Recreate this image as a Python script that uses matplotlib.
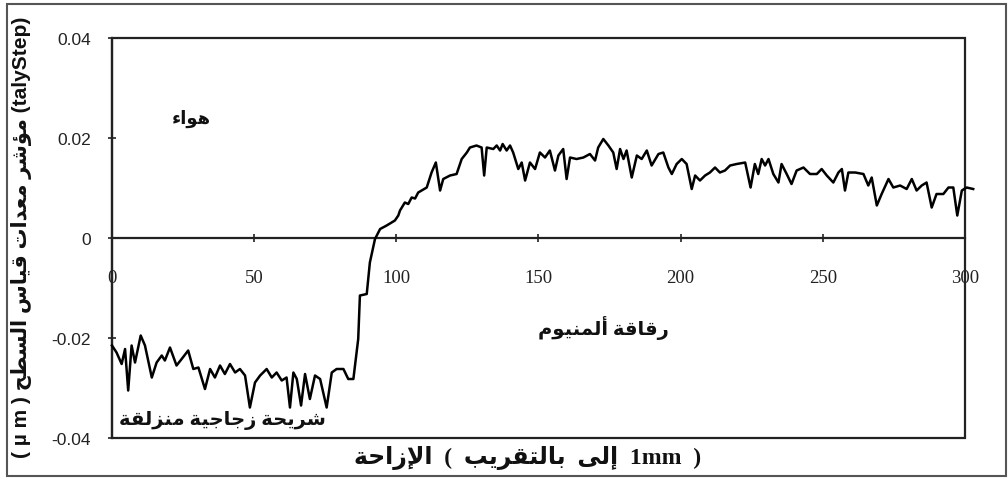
import matplotlib
matplotlib.use("Agg")
import matplotlib.pyplot as plt
from matplotlib.patches import Rectangle

# surface profile across glass slide / aluminium foil step (talyStep trace)
pos_mm = [0, 1.6, 3.4, 4.6, 5.7, 6.9, 8.1, 10.1, 11.6, 14.0, 15.7, 17.5, 18.6, 20.4,
          22.7, 24.5, 26.8, 28.6, 30.4, 32.7, 34.5, 36.2, 38.0, 39.7, 41.5, 43.3, 45.0,
          46.8, 48.5, 50.3, 52.1, 54.4, 56.2, 57.9, 59.7, 61.4, 62.6, 63.8, 65.0, 66.5,
          67.9, 69.6, 71.4, 73.2, 75.5, 77.3, 79.0, 81.4, 83.1, 84.9, 86.6, 87.2, 89.6,
          90.7, 92.5, 94.3, 96.6, 99.5, 100.7, 101.3, 103.0, 104.2, 105.4, 106.6, 107.7,
          110.7, 112.4, 113.9, 115.4, 116.5, 118.9, 121.2, 123.0, 124.8, 125.9, 128.2,
          130.0, 130.9, 131.8, 134.1, 135.3, 136.5, 137.4, 138.8, 140.0, 141.1, 142.9,
          144.1, 145.3, 147.0, 148.8, 150.5, 152.3, 154.0, 155.8, 157.0, 158.7, 159.9,
          161.1, 163.4, 165.8, 168.1, 169.9, 171.0, 172.8, 174.6, 176.3, 177.5, 178.7,
          179.9, 181.0, 182.8, 184.6, 186.3, 188.1, 189.8, 192.2, 193.9, 195.7, 196.9,
          198.6, 200.4, 202.1, 203.9, 205.1, 206.8, 208.6, 210.3, 212.1, 213.8, 215.6,
          217.4, 219.7, 222.7, 224.6, 226.1, 227.3, 228.5, 229.7, 230.9, 232.6, 234.4,
          235.5, 237.3, 239.0, 240.8, 243.2, 245.5, 247.9, 249.6, 251.4, 253.7, 255.5,
          256.7, 257.8, 259.0, 261.4, 264.3, 266.0, 267.2, 269.0, 270.7, 273.1, 274.8,
          277.2, 279.5, 281.3, 283.0, 284.8, 286.5, 288.3, 290.0, 292.4, 294.2, 295.9,
          297.3, 298.9, 300.6, 302.9]
height = [-0.0215, -0.0229, -0.0252, -0.0222, -0.0305, -0.0215, -0.0249, -0.0195, -0.0215,
          -0.0279, -0.0249, -0.0235, -0.0245, -0.0219, -0.0255, -0.0242, -0.0225, -0.0262,
          -0.0259, -0.0302, -0.0262, -0.0279, -0.0255, -0.0272, -0.0252, -0.0269, -0.0262,
          -0.0275, -0.0339, -0.0289, -0.0275, -0.0262, -0.0279, -0.0269, -0.0285, -0.0279,
          -0.0339, -0.0269, -0.0282, -0.0335, -0.0272, -0.0322, -0.0275, -0.0282, -0.0339,
          -0.0269, -0.0262, -0.0262, -0.0282, -0.0282, -0.0202, -0.0115, -0.0112, -0.0049,
          -0.0002, 0.0018, 0.0025, 0.0035, 0.0045, 0.0055, 0.0071, 0.0068, 0.0081, 0.0079,
          0.0091, 0.0101, 0.0131, 0.0151, 0.0095, 0.0118, 0.0125, 0.0128, 0.0158, 0.0171,
          0.0181, 0.0185, 0.0181, 0.0125, 0.0181, 0.0178, 0.0185, 0.0175, 0.0188, 0.0175,
          0.0185, 0.0171, 0.0138, 0.0151, 0.0115, 0.0151, 0.0138, 0.0171, 0.0161, 0.0175,
          0.0135, 0.0165, 0.0178, 0.0118, 0.0161, 0.0158, 0.0161, 0.0168, 0.0155, 0.0181,
          0.0198, 0.0185, 0.0171, 0.0138, 0.0178, 0.0158, 0.0175, 0.0121, 0.0165, 0.0158,
          0.0175, 0.0145, 0.0168, 0.0171, 0.0141, 0.0128, 0.0148, 0.0158, 0.0148, 0.0098,
          0.0125, 0.0115, 0.0125, 0.0131, 0.0141, 0.0131, 0.0135, 0.0145, 0.0148, 0.0151,
          0.0101, 0.0148, 0.0128, 0.0158, 0.0145, 0.0158, 0.0128, 0.0111, 0.0148, 0.0128,
          0.0108, 0.0135, 0.0141, 0.0128, 0.0128, 0.0138, 0.0125, 0.0111, 0.0131, 0.0138,
          0.0095, 0.0131, 0.0131, 0.0128, 0.0105, 0.0121, 0.0065, 0.0088, 0.0118, 0.0101,
          0.0105, 0.0098, 0.0118, 0.0095, 0.0105, 0.0111, 0.0061, 0.0088, 0.0088, 0.0101,
          0.0101, 0.0045, 0.0095, 0.0101, 0.0098]

x_ticks = [0, 50, 100, 150, 200, 250, 300]
y_ticks = [-0.04, -0.02, 0, 0.02, 0.04]
y_tick_labels = ['-0.04', '-0.02', '0', '0.02', '0.04']

# Arabic presentation forms: isolated, final, initial, medial
FORMS = {'ء': (0xFE80,), 'آ': (0xFE81, 0xFE82), 'أ': (0xFE83, 0xFE84), 'ؤ': (0xFE85, 0xFE86),
         'إ': (0xFE87, 0xFE88), 'ا': (0xFE8D, 0xFE8E), 'ة': (0xFE93, 0xFE94),
         'د': (0xFEA9, 0xFEAA), 'ذ': (0xFEAB, 0xFEAC), 'ر': (0xFEAD, 0xFEAE),
         'ز': (0xFEAF, 0xFEB0), 'و': (0xFEED, 0xFEEE), 'ى': (0xFEEF, 0xFEF0)}
for ch, start in [('ئ', 0xFE89), ('ب', 0xFE8F), ('ت', 0xFE95), ('ث', 0xFE99), ('ج', 0xFE9D),
                  ('ح', 0xFEA1), ('خ', 0xFEA5), ('س', 0xFEB1), ('ش', 0xFEB5), ('ص', 0xFEB9),
                  ('ض', 0xFEBD), ('ط', 0xFEC1), ('ظ', 0xFEC5), ('ع', 0xFEC9), ('غ', 0xFECD),
                  ('ف', 0xFED1), ('ق', 0xFED5), ('ك', 0xFED9), ('ل', 0xFEDD), ('م', 0xFEE1),
                  ('ن', 0xFEE5), ('ه', 0xFEE9), ('ي', 0xFEF1)]:
    FORMS[ch] = tuple(range(start, start + 4))
LAM_ALEF = {'ا': (0xFEFB, 0xFEFC), 'أ': (0xFEF7, 0xFEF8), 'إ': (0xFEF9, 0xFEFA), 'آ': (0xFEF5, 0xFEF6)}


def ar(text):
    # matplotlib has no text shaping, so join the letters by hand and reverse
    out = []
    i = 0
    while i < len(text):
        c = text[i]
        if c not in FORMS:
            out.append(c)
            i += 1
            continue
        prev = text[i - 1] if i > 0 else None
        nxt = text[i + 1] if i + 1 < len(text) else None
        joins_prev = prev in FORMS and len(FORMS[prev]) == 4
        if c == 'ل' and nxt in LAM_ALEF:
            out.append(chr(LAM_ALEF[nxt][1 if joins_prev else 0]))
            i += 2
            continue
        forms = FORMS[c]
        joins_next = len(forms) == 4 and nxt in FORMS
        if len(forms) == 1:
            k = 0
        elif joins_prev and joins_next:
            k = 3
        elif joins_prev:
            k = 1
        elif joins_next:
            k = 2
        else:
            k = 0
        out.append(chr(forms[k]))
        i += 1
    return ''.join(reversed(out))


ar_font = dict(family=['Liberation Serif', 'DejaVu Sans'], fontweight='bold', color='#111111')

fig = plt.figure(figsize=(10.08, 4.81), dpi=100)
ax = fig.add_axes([0.1111, 0.0873, 0.8462, 0.8316])

ax.plot(pos_mm, height, color='black', lw=1.8, clip_on=False, zorder=3)

# x axis runs along zero, the frame is drawn separately
ax.spines['bottom'].set_position(('data', 0))
for side in ['top', 'right']:
    ax.spines[side].set_visible(False)
for side in ['bottom', 'left']:
    ax.spines[side].set_linewidth(1.6)
    ax.spines[side].set_color('#222222')
ax.add_patch(Rectangle((0, 0), 1, 1, transform=ax.transAxes, fill=False,
                       lw=1.6, ec='#222222', clip_on=False, zorder=2))

ax.set_xlim(0, 300)
ax.set_ylim(-0.04, 0.04)
ax.set_xticks(x_ticks)
ax.set_xticklabels([str(v) for v in x_ticks], fontfamily='Liberation Serif', fontsize=13.5)
ax.set_yticks(y_ticks)
ax.set_yticklabels(y_tick_labels, fontfamily='Liberation Sans', fontsize=12.5)
ax.tick_params(axis='x', direction='inout', length=6, width=1.2, pad=19, colors='#222222')
ax.tick_params(axis='y', direction='inout', length=6, width=1.2, pad=12, colors='#222222')

ax.text(28, 0.0240, ar('هواء'), fontsize=13, ha='center', va='center', **ar_font)
ax.text(173, -0.0178, ar('رقاقة ألمنيوم'), fontsize=14, ha='center', va='center', **ar_font)
ax.text(39, -0.0362, ar('شريحة زجاجية منزلقة'), fontsize=14, ha='center', va='center', **ar_font)

# axis titles, mixed Arabic and Latin pieces laid out left to right
x_title = ar('الإزاحة') + '  (  ' + ar('بالتقريب') + '  ' + ar('إلى') + '  1mm  )'
y_title = '( µ m ) ' + ar('السطح') + ' ' + ar('قياس') + ' ' + ar('معدات') + ' ' + \
    ar('مؤشر') + ' (talyStep)'
fig.text(0.523, 0.047, x_title, fontsize=17, ha='center', va='center', **ar_font)
fig.text(0.021, 0.507, y_title, fontsize=15, ha='center', va='center', rotation=90,
         family=['Liberation Sans', 'DejaVu Sans'], fontweight='bold', color='#111111')

fig.add_artist(Rectangle((0.007, 0.009), 0.991, 0.98, transform=fig.transFigure,
                         fill=False, lw=1.5, ec='#555555'))

fig.savefig('out.png', dpi=100)
